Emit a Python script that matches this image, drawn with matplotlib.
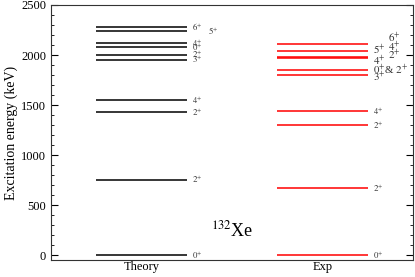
import matplotlib
matplotlib.use("Agg")
import matplotlib.pyplot as plt
from matplotlib.ticker import MultipleLocator

plt.rcParams['font.family'] = ['Liberation Serif', 'DejaVu Serif']
plt.rcParams['mathtext.fontset'] = 'stix'

categories = ["Theory", "Exp"]
theory_E = [0, 753, 1427, 1550, 1953, 2005, 2080, 2118, 2235, 2277]
theory_J = ["0", "2", "2", "4", "3", "2", "0", "4", "5", "6"]
exp_E = [0, 668, 1298, 1440, 1804, 1850, 1966, 1980, 2040, 2111]

# level labels for Exp (spin, label energy position, column)
exp_J = ["0", "2", "2", "4", "3", "0 & 2", "4", "2", "5", "4", "6"]
exp_label_E = [0, 668, 1298, 1440, 1783, 1852, 1945, 2000, 2050, 2085, 2168]
exp_label_col = [0, 0, 0, 0, 0, 0, 0, 1, 0, 1, 1]
theory_label_col = [0, 0, 0, 0, 0, 0, 0, 0, 1, 0]

fig = plt.figure(figsize=(4.15, 2.77), dpi=100)
ax = fig.add_axes([0.123, 0.061, 0.872, 0.921])

xc = [1, 3]
hw = 0.5
for E in theory_E:
    ax.plot([xc[0] - hw, xc[0] + hw], [E, E], color='black', lw=1.1, solid_capstyle='butt')
for E in exp_E:
    ax.plot([xc[1] - hw, xc[1] + hw], [E, E], color='red', lw=1.1, solid_capstyle='butt')

fs = 6.3
for E, J, col in zip(theory_E, theory_J, theory_label_col):
    x = xc[0] + hw + 0.06 + col * 0.17
    ax.text(x, E, f"${J}^{{+}}$", fontsize=fs, va='center', ha='left', color='#333333')

for E, J, col in zip(exp_label_E, exp_J, exp_label_col):
    x = xc[1] + hw + 0.06 + col * 0.17
    if J == "0 & 2":
        txt = r"$0^{+}$& $2^{+}$"
    else:
        txt = f"${J}^{{+}}$"
    size = 7.8 if E > 1700 else fs
    ax.text(x, E, txt, fontsize=size, va='center', ha='left', color='#333333')

ax.text(2.0, 250, r"$^{132}$Xe", fontsize=13, ha='center', va='center')

ax.set_xlim(0, 4)
ax.set_ylim(-50, 2500)
ax.set_xticks(xc)
ax.set_xticklabels(categories, fontsize=9)
ax.tick_params(axis='x', length=0, pad=1)
ax.yaxis.set_major_locator(MultipleLocator(500))
ax.yaxis.set_minor_locator(MultipleLocator(100))
ax.tick_params(axis='y', which='both', direction='in', right=True, labelsize=9)
ax.tick_params(axis='y', which='major', length=5)
ax.tick_params(axis='y', which='minor', length=2.5)
ax.set_ylabel("Excitation energy (keV)", fontsize=10, labelpad=2)
for sp in ax.spines.values():
    sp.set_color('#333333')

fig.savefig("out.png", dpi=100)
